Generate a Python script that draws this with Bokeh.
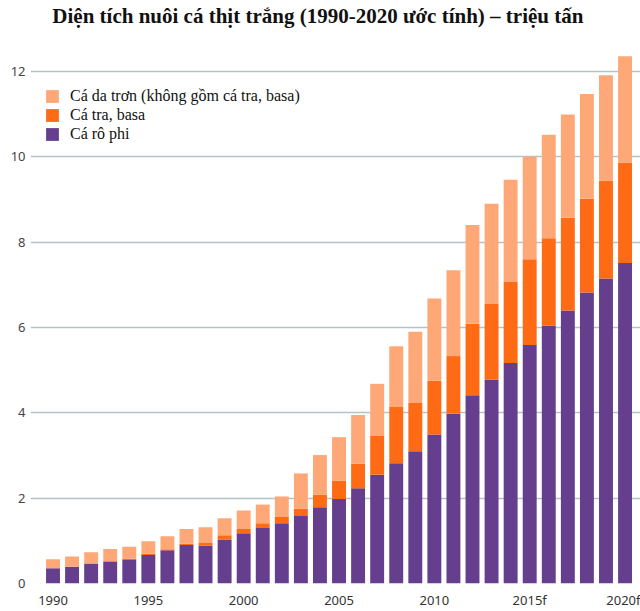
from bokeh.plotting import figure
from bokeh.models import ColumnDataSource, Range1d, FixedTicker, Legend, LegendItem, Label
from bokeh.embed import file_html
from bokeh.resources import INLINE

years = list(range(1990, 2021))
tilapia = [0.36, 0.39, 0.47, 0.51, 0.55, 0.67, 0.78, 0.90, 0.89, 1.03, 1.18, 1.30, 1.41, 1.58, 1.79,
           1.98, 2.23, 2.55, 2.82, 3.10, 3.49, 3.98, 4.41, 4.78, 5.17, 5.59, 6.04, 6.40, 6.82, 7.15, 7.51]
pangasius = [0.00, 0.00, 0.00, 0.02, 0.03, 0.03, 0.02, 0.03, 0.06, 0.10, 0.10, 0.11, 0.15, 0.17, 0.29,
             0.43, 0.58, 0.92, 1.33, 1.13, 1.26, 1.35, 1.68, 1.77, 1.91, 2.01, 2.05, 2.17, 2.20, 2.29, 2.35]
catfish = [0.21, 0.24, 0.26, 0.28, 0.28, 0.29, 0.31, 0.35, 0.37, 0.40, 0.43, 0.44, 0.48, 0.83, 0.93,
           1.02, 1.14, 1.21, 1.41, 1.67, 1.93, 2.01, 2.31, 2.35, 2.38, 2.40, 2.43, 2.42, 2.45, 2.47, 2.50]
tick_years = [1990, 1995, 2000, 2005, 2010, 2015, 2020]
tick_labels = ["1990", "1995", "2000", "2005", "2010", "2015f", "2020f"]
y_ticks = [0, 2, 4, 6, 8, 10, 12]
series_names = ["Cá rô phi", "Cá tra, basa", "Cá da trơn (không gồm cá tra, basa)"]
colors = ["#653F8D", "#FF6A14", "#FFA877"]
title_text = "Diện tích nuôi  cá thịt trắng (1990-2020 ước tính) – triệu tấn"

source = ColumnDataSource(dict(year=years, tilapia=tilapia, pangasius=pangasius, catfish=catfish))

p = figure(width=640, height=611, output_backend="svg", toolbar_location=None,
           x_range=Range1d(1988.82, 2020.81), y_range=Range1d(0, 13.664),
           min_border_left=30, min_border_right=0, min_border_bottom=28, min_border_top=0)
p.outline_line_color = None

renderers = p.vbar_stack(["tilapia", "pangasius", "catfish"], x="year", width=0.73,
                         color=colors, line_color=None, source=source)

frame_h = 611 - 28
title = Label(x=290, y=frame_h - 15, x_units="screen", y_units="screen", text=title_text,
              text_align="center", text_baseline="middle", text_font="Liberation Serif",
              text_font_style="bold", text_font_size="21px", text_color="#111111")
p.add_layout(title)

p.xgrid.grid_line_color = None
p.ygrid.grid_line_color = "#B3C4C7"
p.ygrid.grid_line_width = 1.6
p.ygrid.ticker = FixedTicker(ticks=y_ticks)

p.yaxis.ticker = FixedTicker(ticks=y_ticks)
p.yaxis.axis_line_color = None
p.yaxis.major_tick_line_color = None
p.yaxis.minor_tick_line_color = None
p.yaxis.major_tick_out = 0
p.yaxis.major_label_text_font = "Noto Sans"
p.yaxis.major_label_text_font_size = "13px"
p.yaxis.major_label_text_color = "#444444"
p.yaxis.major_label_standoff = 5

p.xaxis.ticker = FixedTicker(ticks=tick_years)
p.xaxis.major_label_overrides = {y: l for y, l in zip(tick_years, tick_labels)}
p.xaxis.axis_line_color = None
p.xaxis.major_tick_line_color = None
p.xaxis.minor_tick_line_color = None
p.xaxis.major_tick_out = 0
p.xaxis.major_label_text_font = "Noto Sans"
p.xaxis.major_label_text_font_size = "13px"
p.xaxis.major_label_text_color = "#333333"
p.xaxis.major_label_standoff = 7

items = [LegendItem(label=series_names[i], renderers=[renderers[i]]) for i in (2, 1, 0)]
legend = Legend(items=items, location=(14, 440), padding=0, margin=0, spacing=1,
                glyph_width=16, glyph_height=16, label_height=16, label_standoff=10,
                label_text_font="Liberation Serif", label_text_font_size="16px",
                label_text_color="#111111", border_line_color=None, background_fill_alpha=0)
p.add_layout(legend, "center")

open("out.html", "w").write(file_html(p, INLINE))
